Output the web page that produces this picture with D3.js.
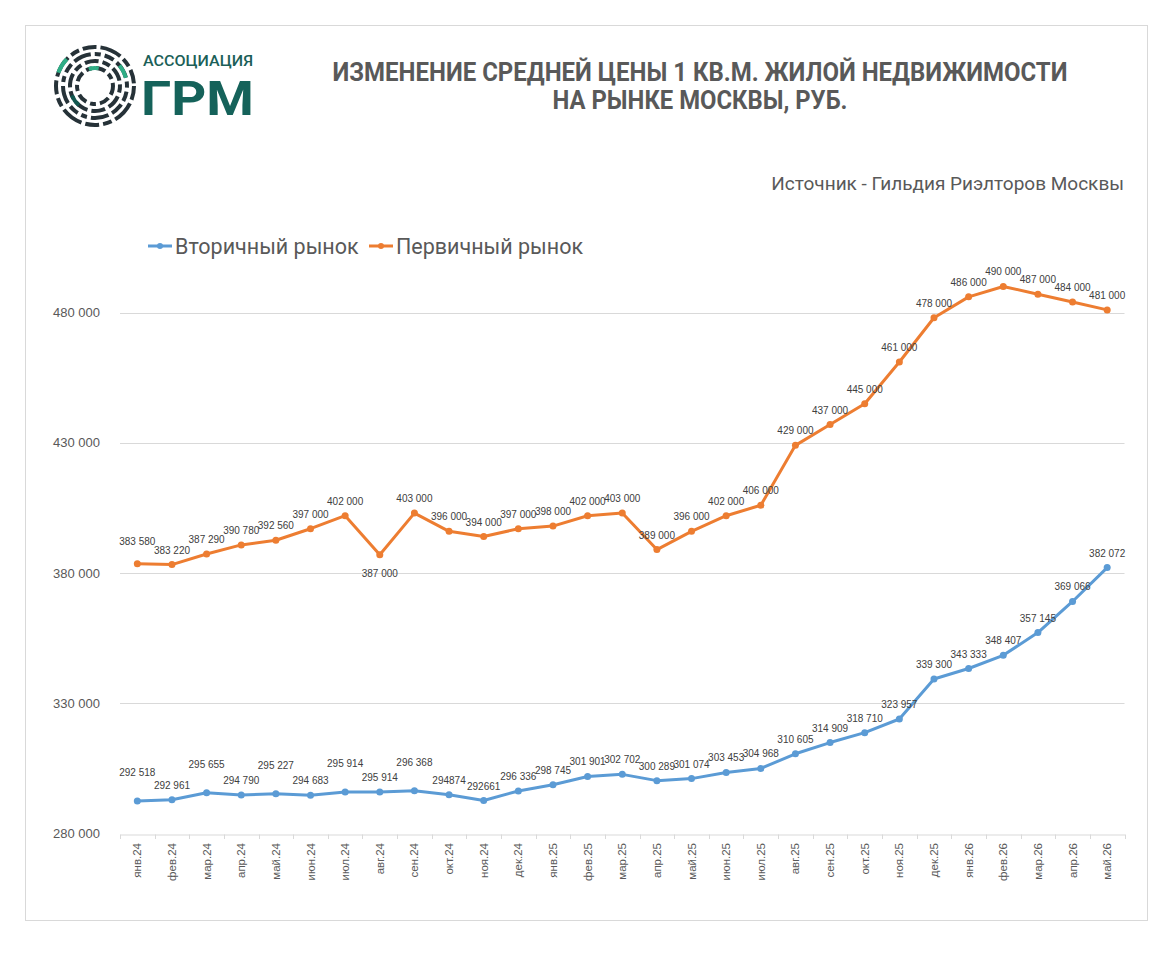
<!DOCTYPE html>
<html>
<head>
<meta charset="utf-8">
<script src="https://cdn.jsdelivr.net/npm/d3@7"></script>
<style>
  body { margin: 0; background: #fff; }
  svg { display: block; }
</style>
</head>
<body>
<div id="chart"></div>
<script>
// months on the x axis
const months = ["янв.24","фев.24","мар.24","апр.24","май.24","июн.24","июл.24","авг.24","сен.24","окт.24","ноя.24","дек.24",
  "янв.25","фев.25","мар.25","апр.25","май.25","июн.25","июл.25","авг.25","сен.25","окт.25","ноя.25","дек.25",
  "янв.26","фев.26","мар.26","апр.26","май.26"];

// вторичный рынок, руб. за кв.м.
const secondary = [292518, 292961, 295655, 294790, 295227, 294683, 295914, 295914, 296368, 294874, 292661, 296336,
  298745, 301901, 302702, 300289, 301074, 303453, 304968, 310605, 314909, 318710, 323957, 339300,
  343333, 348407, 357145, 369066, 382072];
const secondaryLabels = ["292 518","292 961","295 655","294 790","295 227","294 683","295 914","295 914","296 368","294874","292661","296 336",
  "298 745","301 901","302 702","300 289","301 074","303 453","304 968","310 605","314 909","318 710","323 957","339 300",
  "343 333","348 407","357 145","369 066","382 072"];

// первичный рынок
const primary = [383580, 383220, 387290, 390780, 392560, 397000, 402000, 387000, 403000, 396000, 394000, 397000,
  398000, 402000, 403000, 389000, 396000, 402000, 406000, 429000, 437000, 445000, 461000, 478000,
  486000, 490000, 487000, 484000, 481000];

const yTicks = [280000, 330000, 380000, 430000, 480000];

const width = 1173, height = 957;
const fmt = v => d3.format(",")(v).replace(/,/g, " ");

const svg = d3.select("#chart").append("svg")
    .attr("width", width)
    .attr("height", height);

// outer frame
svg.append("rect")
    .attr("x", 25.5).attr("y", 25.5)
    .attr("width", 1122).attr("height", 895)
    .attr("fill", "#fff")
    .attr("stroke", "#d9d9d9");

// scales
const x = d3.scaleBand()
    .domain(months)
    .range([120, 1124.5]);

const y = d3.scaleLinear()
    .domain([280000, 480000])
    .range([833.5, 312.5]);

const cx = d => x(d) + x.bandwidth() / 2;

// gridlines
svg.append("g")
    .selectAll("line")
    .data(yTicks.slice(1))
    .join("line")
    .attr("x1", 120).attr("x2", 1124.5)
    .attr("y1", d => Math.round(y(d)) + 0.5)
    .attr("y2", d => Math.round(y(d)) + 0.5)
    .attr("stroke", "#d9d9d9");

// y labels
svg.append("g")
    .selectAll("text")
    .data(yTicks)
    .join("text")
    .attr("x", 100)
    .attr("y", d => y(d) + 4.5)
    .attr("text-anchor", "end")
    .attr("font-family", "Liberation Sans, Arial, sans-serif")
    .attr("font-size", 13)
    .attr("fill", "#595959")
    .text(fmt);

// x axis
const xAxis = svg.append("g")
    .attr("transform", "translate(0," + 834.5 + ")")
    .call(d3.axisBottom(x).tickSize(0).tickFormat(""));
xAxis.select(".domain").attr("stroke", "#d9d9d9");

// tick marks at band edges
svg.append("g")
    .selectAll("line")
    .data(months.concat(["end"]))
    .join("line")
    .attr("x1", (d, i) => Math.round(i < months.length ? x(d) : x.range()[1]) + 0.5)
    .attr("x2", (d, i) => Math.round(i < months.length ? x(d) : x.range()[1]) + 0.5)
    .attr("y1", 834.5).attr("y2", 839)
    .attr("stroke", "#d9d9d9");

// rotated month labels
svg.append("g")
    .selectAll("text")
    .data(months)
    .join("text")
    .attr("transform", d => "translate(" + (cx(d) + 4) + ",843) rotate(-90)")
    .attr("text-anchor", "end")
    .attr("font-family", "Liberation Sans, Arial, sans-serif")
    .attr("font-size", 11.5)
    .attr("fill", "#595959")
    .text(d => d);

// lines
const series = [
  {values: secondary, color: "#5b9bd5"},
  {values: primary, color: "#ed7d31"}
];

const line = d3.line()
    .x((d, i) => cx(months[i]))
    .y(d => y(d));

series.forEach(s => {
  svg.append("path")
      .datum(s.values)
      .attr("d", line)
      .attr("fill", "none")
      .attr("stroke", s.color)
      .attr("stroke-width", 3)
      .attr("stroke-linejoin", "round");

  svg.append("g")
      .selectAll("circle")
      .data(s.values)
      .join("circle")
      .attr("cx", (d, i) => cx(months[i]))
      .attr("cy", d => y(d))
      .attr("r", 3.5)
      .attr("fill", s.color);
});

// data labels
const labelFont = "Liberation Sans, Arial, sans-serif";
svg.append("g")
    .selectAll("text")
    .data(secondary)
    .join("text")
    .attr("x", (d, i) => cx(months[i]))
    .attr("y", (d, i) => y(d) - ((i < 9 && i % 2 === 0) ? 25 : 11))
    .attr("text-anchor", "middle")
    .attr("font-family", labelFont)
    .attr("font-size", 10)
    .attr("fill", "#404040")
    .text((d, i) => secondaryLabels[i]);

svg.append("g")
    .selectAll("text")
    .data(primary)
    .join("text")
    .attr("x", (d, i) => cx(months[i]))
    .attr("y", (d, i) => {
      if (i === 7) return y(d) + 22;  // 387 000 sits under the dip
      if (i === 0) return y(d) - 19;
      return y(d) - 11;
    })
    .attr("text-anchor", "middle")
    .attr("font-family", labelFont)
    .attr("font-size", 10)
    .attr("fill", "#404040")
    .text(fmt);

// title
const title = svg.append("text")
    .attr("text-anchor", "middle")
    .attr("font-family", "Roboto, Arial, sans-serif")
    .attr("font-weight", "bold")
    .attr("font-size", 26)
    .attr("fill", "#595959");
title.append("tspan").attr("x", 700).attr("y", 81)
    .attr("textLength", 735).attr("lengthAdjust", "spacingAndGlyphs")
    .text("ИЗМЕНЕНИЕ СРЕДНЕЙ ЦЕНЫ 1 КВ.М. ЖИЛОЙ НЕДВИЖИМОСТИ");
title.append("tspan").attr("x", 700).attr("y", 109)
    .attr("textLength", 295).attr("lengthAdjust", "spacingAndGlyphs")
    .text("НА РЫНКЕ МОСКВЫ, РУБ.");

// source note
svg.append("text")
    .attr("x", 1124)
    .attr("y", 190)
    .attr("text-anchor", "end")
    .attr("font-family", "Roboto, Arial, sans-serif")
    .attr("font-size", 19)
    .attr("fill", "#595959")
    .text("Источник - Гильдия Риэлторов Москвы");

// legend
const legendItems = [
  {name: "Вторичный рынок", color: "#5b9bd5", x: 148},
  {name: "Первичный рынок", color: "#ed7d31", x: 369}
];
const legend = svg.append("g").attr("transform", "translate(0,246)");
legendItems.forEach(item => {
  legend.append("line")
      .attr("x1", item.x).attr("x2", item.x + 24)
      .attr("y1", 0).attr("y2", 0)
      .attr("stroke", item.color)
      .attr("stroke-width", 3);
  legend.append("circle")
      .attr("cx", item.x + 12).attr("cy", 0).attr("r", 3)
      .attr("fill", item.color);
  legend.append("text")
      .attr("x", item.x + 27)
      .attr("y", 8)
      .attr("font-family", "Roboto, Arial, sans-serif")
      .attr("font-size", 21.5)
      .attr("fill", "#595959")
      .text(item.name);
});

// logo
const logo = svg.append("g").attr("transform", "translate(95,86)");
const rings = [
  {r: 39, dash: "14 4 22 4 9 4", color: "#263238", rot: 0},
  {r: 39, dash: "16 229", color: "#2fae86", rot: 200},
  {r: 32, dash: "10 4 18 4 6 4", color: "#263238", rot: 40},
  {r: 32, dash: "14 187", color: "#2fae86", rot: 320},
  {r: 25, dash: "8 4 14 4", color: "#263238", rot: 80},
  {r: 25, dash: "12 145", color: "#11574f", rot: 130},
  {r: 18, dash: "6 4 10 4", color: "#263238", rot: 10},
  {r: 18, dash: "10 103", color: "#2fae86", rot: 250}
];
rings.forEach(rg => {
  logo.append("circle")
      .attr("r", rg.r)
      .attr("fill", "none")
      .attr("stroke", rg.color)
      .attr("stroke-width", 4)
      .attr("stroke-dasharray", rg.dash)
      .attr("transform", "rotate(" + rg.rot + ")");
});

svg.append("text")
    .attr("x", 143).attr("y", 66)
    .attr("font-family", "Roboto, Arial, sans-serif")
    .attr("font-weight", 500)
    .attr("font-size", 15)
    .attr("textLength", 110)
    .attr("lengthAdjust", "spacingAndGlyphs")
    .attr("fill", "#1b5f58")
    .text("АССОЦИАЦИЯ");
svg.append("text")
    .attr("x", 141).attr("y", 115)
    .attr("font-family", "Roboto, Arial, sans-serif")
    .attr("font-weight", "bold")
    .attr("font-size", 48)
    .attr("textLength", 113)
    .attr("lengthAdjust", "spacingAndGlyphs")
    .attr("fill", "#15625a")
    .text("ГРМ");
</script>
</body>
</html>
